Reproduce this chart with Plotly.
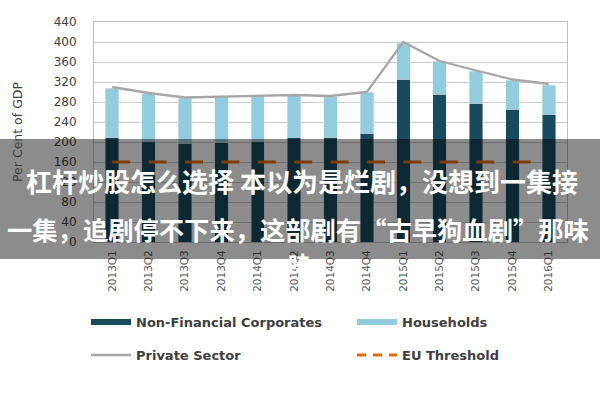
import plotly.graph_objects as go

quarters = ['2013Q1', '2013Q2', '2013Q3', '2013Q4', '2014Q1', '2014Q2', '2014Q3',
            '2014Q4', '2015Q1', '2015Q2', '2015Q3', '2015Q4', '2016Q1']
non_financial = [210, 202, 198, 200, 202, 210, 210, 218, 326, 296, 278, 266, 256]
households = [98, 95, 90, 90, 90, 84, 81, 82, 72, 66, 64, 58, 58]
private_sector = [310, 298, 289, 291, 292, 294, 292, 300, 400, 362, 343, 325, 316]
eu_threshold = [160] * 13
y_ticks = list(range(0, 441, 40))

overlay_line1 = "杠杆炒股怎么选择 本以为是烂剧，没想到一集接"
overlay_line2 = "一集，追剧停不下来，这部剧有“古早狗血剧”那味"
overlay_line3 = "味"

C_NFC = '#174A5C'
C_HH = '#92CDDF'
C_PS = '#A6A6A6'
C_EU = '#E36C0A'

# plot area in pixels
PL, PR, PT, PB = 94, 567, 22, 242


def px_x(px):
    return (px - PL) / (PR - PL)


def px_y(py):
    return (PB - py) / (PB - PT)


fig = go.Figure()
fig.add_trace(go.Bar(x=quarters, y=non_financial, name='Non-Financial Corporates',
                     marker_color=C_NFC, showlegend=False, legendgroup='nfc'))
fig.add_trace(go.Bar(x=quarters, y=households, name='Households',
                     marker_color=C_HH, showlegend=False, legendgroup='hh'))
fig.add_trace(go.Scatter(x=quarters, y=private_sector, name='Private Sector', mode='lines',
                         line=dict(color=C_PS, width=2.3), showlegend=False, legendgroup='ps'))
fig.add_trace(go.Scatter(x=quarters, y=eu_threshold, name='EU Threshold', mode='lines',
                         line=dict(color=C_EU, width=3, dash='18px,18.4px'),
                         showlegend=False, legendgroup='eu'))

# legend entries (one legend per entry, placed like the reference)
fig.add_trace(go.Scatter(x=[None], y=[None], mode='lines', name='Non-Financial Corporates',
                         line=dict(color=C_NFC, width=6), legend='legend', legendgroup='nfc'))
fig.add_trace(go.Scatter(x=[None], y=[None], mode='lines', name='Households',
                         line=dict(color=C_HH, width=6), legend='legend2', legendgroup='hh'))
fig.add_trace(go.Scatter(x=[None], y=[None], mode='lines', name='Private Sector',
                         line=dict(color=C_PS, width=2.5), legend='legend3', legendgroup='ps'))
fig.add_trace(go.Scatter(x=[None], y=[None], mode='lines', name='EU Threshold',
                         line=dict(color=C_EU, width=3, dash='9px,7px'), legend='legend4',
                         legendgroup='eu'))

legend_common = dict(orientation='h', xref='container', yref='container',
                     xanchor='left', yanchor='middle', itemwidth=40,
                     bgcolor='rgba(0,0,0,0)',
                     font=dict(family='DejaVu Sans', size=13, color='#404040', weight='bold'))

fig.update_layout(
    width=600, height=400,
    margin=dict(l=PL, r=600 - PR, t=PT, b=400 - PB),
    paper_bgcolor='white', plot_bgcolor='white',
    barmode='stack', bargap=0.63,
    font=dict(family='DejaVu Sans', color='#404040'),
    legend=dict(x=86 / 600, y=1 - 322 / 400, **legend_common),
    legend2=dict(x=352 / 600, y=1 - 322 / 400, **legend_common),
    legend3=dict(x=86 / 600, y=1 - 355 / 400, **legend_common),
    legend4=dict(x=352 / 600, y=1 - 355 / 400, **legend_common),
    xaxis=dict(tickangle=-90, tickfont=dict(size=10.5, color='#595959'),
               showline=True, linecolor='#BFBFBF', mirror=True, ticks='',
               showgrid=False, ticklabelstandoff=3),
    yaxis=dict(range=[0, 440], tickvals=y_ticks, tickfont=dict(size=12, color='#404040'),
               showgrid=True, gridcolor='#CCCCCC', gridwidth=1.2,
               showline=True, linecolor='#BFBFBF', mirror=True, ticks='',
               zeroline=False, ticklabelstandoff=14,
               title=dict(text='Per Cent of GDP',
                          font=dict(family='DejaVu Sans', size=12.5, color='#404040'),
                          standoff=28)),
    shapes=[dict(type='rect', xref='paper', yref='paper', x0=px_x(-5), x1=px_x(605),
                 y0=px_y(259), y1=px_y(139),
                 fillcolor='rgba(0,0,0,0.45)', line=dict(width=0), layer='above')],
    annotations=[
        dict(text=overlay_line1, xref='paper', yref='paper', x=px_x(302),
             y=px_y(180), showarrow=False, xanchor='center', yanchor='middle',
             font=dict(family='Noto Sans CJK SC', size=26, color='white', weight='bold')),
        dict(text=overlay_line2, xref='paper', yref='paper', x=px_x(298),
             y=px_y(229), showarrow=False, xanchor='center', yanchor='middle',
             font=dict(family='Noto Sans CJK SC', size=25.3, color='white', weight='bold')),
        dict(text=overlay_line3, xref='paper', yref='paper', x=px_x(299),
             y=px_y(262), showarrow=False, xanchor='center', yanchor='middle',
             font=dict(family='Noto Sans CJK SC', size=22, color='white', weight='bold')),
    ],
)

fig.write_html('out.html')
